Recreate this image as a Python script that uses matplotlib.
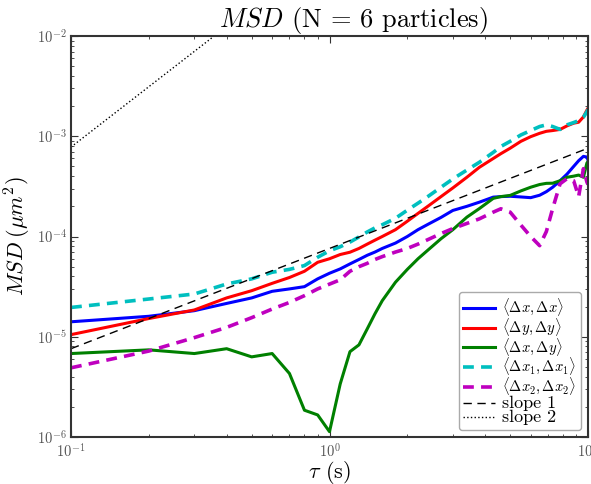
import matplotlib
matplotlib.use("Agg")
import matplotlib.pyplot as plt

# lag times (s)
tau = [0.1, 0.2, 0.3, 0.4, 0.5, 0.6, 0.7, 0.8, 0.9, 1.0, 1.1, 1.2, 1.3, 1.4, 1.5, 1.6,
       1.8, 2.0, 2.2, 2.4, 2.7, 3.0, 3.4, 3.8, 4.3, 4.6, 5.0, 5.5, 6.0, 6.5, 6.9, 7.3,
       7.8, 8.3, 8.8, 9.2, 9.6, 9.9, 10.0]

msd_xx = [1.41e-5, 1.60e-5, 1.82e-5, 2.15e-5, 2.44e-5, 2.84e-5, 3.0e-5, 3.16e-5, 3.78e-5,
          4.3e-5, 4.75e-5, 5.33e-5, 5.9e-5, 6.5e-5, 7.0e-5, 7.6e-5, 8.6e-5, 1.0e-4, 1.17e-4,
          1.32e-4, 1.55e-4, 1.82e-4, 2.0e-4, 2.2e-4, 2.47e-4, 2.5e-4, 2.52e-4, 2.48e-4,
          2.44e-4, 2.58e-4, 2.8e-4, 3.1e-4, 3.6e-4, 4.2e-4, 5.0e-4, 5.7e-4, 6.3e-4, 6.2e-4,
          5.8e-4]

msd_yy = [1.05e-5, 1.52e-5, 1.85e-5, 2.44e-5, 2.88e-5, 3.41e-5, 3.9e-5, 4.5e-5, 5.53e-5,
          6.0e-5, 6.61e-5, 6.97e-5, 7.6e-5, 8.4e-5, 9.2e-5, 1.0e-4, 1.17e-4, 1.42e-4, 1.7e-4,
          2.0e-4, 2.5e-4, 3.05e-4, 3.9e-4, 4.9e-4, 6.0e-4, 6.7e-4, 7.6e-4, 8.9e-4, 9.9e-4,
          1.07e-3, 1.12e-3, 1.14e-3, 1.17e-3, 1.27e-3, 1.35e-3, 1.38e-3, 1.56e-3, 1.82e-3,
          1.9e-3]

msd_xy = [6.8e-6, 7.4e-6, 6.8e-6, 7.6e-6, 6.3e-6, 6.8e-6, 4.3e-6, 1.85e-6, 1.66e-6, 1.13e-6,
          3.38e-6, 7.1e-6, 8.3e-6, 1.2e-5, 1.7e-5, 2.29e-5, 3.5e-5, 4.7e-5, 6.0e-5, 7.3e-5,
          9.5e-5, 1.17e-4, 1.56e-4, 1.90e-4, 2.4e-4, 2.5e-4, 2.57e-4, 2.85e-4, 3.1e-4, 3.3e-4,
          3.39e-4, 3.4e-4, 3.6e-4, 3.9e-4, 4.0e-4, 4.1e-4, 3.9e-4, 5.4e-4, 5.6e-4]

msd_x1 = [1.96e-5, 2.38e-5, 2.67e-5, 3.36e-5, 3.78e-5, 4.40e-5, 4.7e-5, 5.13e-5, 6.21e-5,
          7.2e-5, 7.9e-5, 8.8e-5, 9.9e-5, 1.11e-4, 1.22e-4, 1.31e-4, 1.52e-4, 1.83e-4,
          2.15e-4, 2.5e-4, 3.1e-4, 3.75e-4, 4.6e-4, 5.5e-4, 6.9e-4, 7.9e-4, 8.9e-4, 1.03e-3,
          1.14e-3, 1.25e-3, 1.3e-3, 1.25e-3, 1.17e-3, 1.3e-3, 1.37e-3, 1.43e-3, 1.55e-3,
          1.75e-3, 1.85e-3]

msd_x2 = [4.9e-6, 7.2e-6, 9.8e-6, 1.24e-5, 1.55e-5, 1.89e-5, 2.2e-5, 2.57e-5, 3.0e-5, 3.35e-5,
          3.7e-5, 4.5e-5, 5.0e-5, 5.4e-5, 5.9e-5, 6.3e-5, 7.0e-5, 7.6e-5, 8.4e-5, 9.3e-5,
          1.07e-4, 1.2e-4, 1.35e-4, 1.50e-4, 1.75e-4, 1.89e-4, 1.75e-4, 1.3e-4, 1.0e-4, 8.1e-5,
          1.12e-4, 1.9e-4, 3.36e-4, 3.78e-4, 3.6e-4, 2.5e-4, 4.75e-4, 3.5e-4, 3.3e-4]

# reference power laws, given by their end points
ref_tau = [0.1, 10.0]
slope_1 = [7.6e-6, 7.6e-4]
slope_2 = [7.8e-4, 7.8]

plt.rcParams.update({
    "font.family": "cmr10",
    "mathtext.fontset": "cm",
    "axes.unicode_minus": False,
    "axes.formatter.use_mathtext": True,
    "xtick.direction": "in",
    "ytick.direction": "in",
    "xtick.top": True,
    "ytick.right": True,
    "xtick.major.size": 5,
    "ytick.major.size": 5,
    "xtick.minor.size": 2.5,
    "ytick.minor.size": 2.5,
    "xtick.major.pad": 4,
    "ytick.major.pad": 3,
    "xtick.labelsize": 10.5,
    "ytick.labelsize": 10.5,
    "xtick.color": "#333333",
    "ytick.color": "#333333",
    "xtick.labelcolor": "#555555",
    "ytick.labelcolor": "#555555",
})

fig = plt.figure(figsize=(5.91, 4.84), dpi=100)
ax = fig.add_axes([71 / 591, 1 - 437 / 484, (588 - 71) / 591, (437 - 36) / 484])

ax.plot(tau, msd_xx, color="b", lw=2.2, label=r"$\langle\Delta x,\Delta x\rangle$")
ax.plot(tau, msd_yy, color="r", lw=2.2, label=r"$\langle\Delta y,\Delta y\rangle$")
ax.plot(tau, msd_xy, color="g", lw=2.2, label=r"$\langle\Delta x,\Delta y\rangle$")
ax.plot(tau, msd_x1, color="c", lw=2.6, ls=(0, (3, 2)),
        label=r"$\langle\Delta x_1,\Delta x_1\rangle$")
ax.plot(tau, msd_x2, color="m", lw=2.6, ls=(0, (3, 2)),
        label=r"$\langle\Delta x_2,\Delta x_2\rangle$")
ax.plot(ref_tau, slope_1, color="k", lw=1.0, ls=(0, (6, 4)), label="slope 1")
ax.plot(ref_tau, slope_2, color="k", lw=1.0, ls=":", label="slope 2")

ax.set_xscale("log")
ax.set_yscale("log")
ax.set_xlim(0.1, 10)
ax.set_ylim(1e-6, 1e-2)

for s in ax.spines.values():
    s.set_linewidth(1.5)
    s.set_color("#333333")

ax.set_title(r"$MSD$ (N = 6 particles)", fontsize=19, x=0.547, pad=4)
ax.set_xlabel(r"$\tau$ (s)", fontsize=16, labelpad=-1)
ax.set_ylabel(r"$MSD\;(\mu m^2)$", fontsize=16, labelpad=3)

leg = ax.legend(loc="lower right", prop={"size": 10.5},
                fancybox=True, handlelength=2.2, handletextpad=0.5,
                labelspacing=-0.09, borderpad=0.3, borderaxespad=0.5,
                framealpha=1.0, edgecolor="#aaaaaa")
# plain-text entries set a little larger so they read like the math entries
for txt in leg.get_texts()[5:]:
    txt.set_fontsize(13)

fig.savefig("out.png", dpi=100, facecolor="white")
